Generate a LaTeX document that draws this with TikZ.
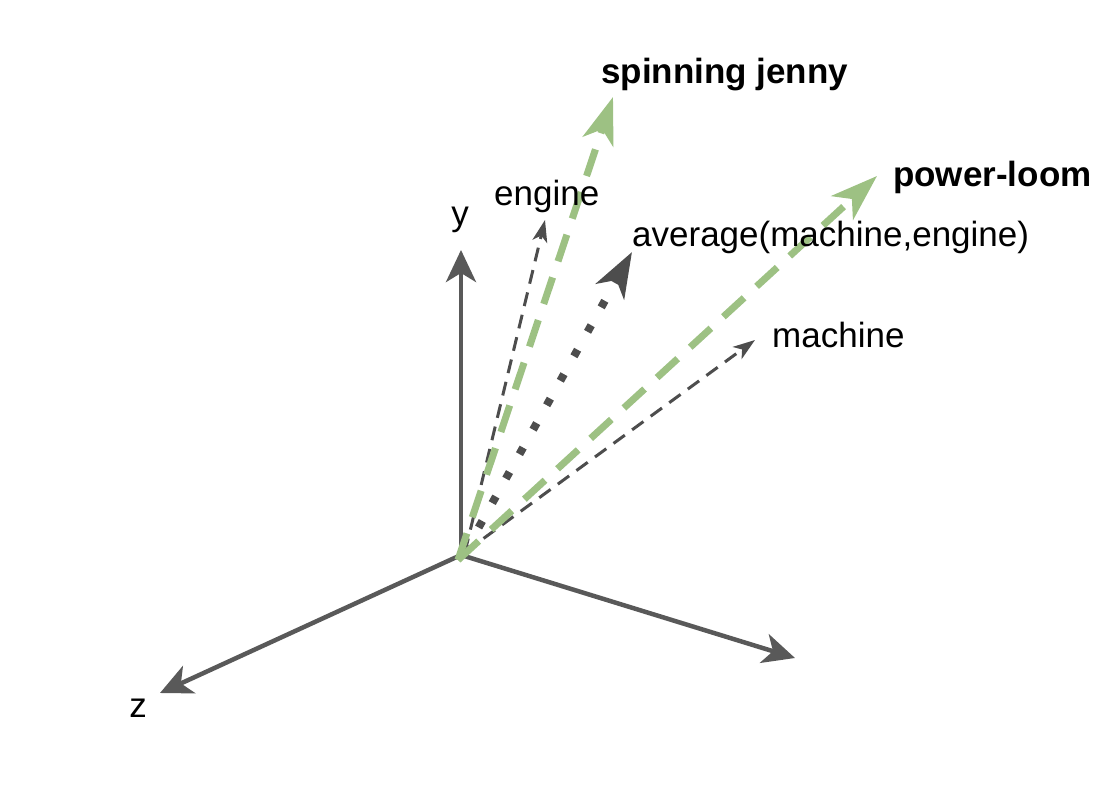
\documentclass[tikz,border=0pt]{standalone}
\usepackage{fontspec}
\setmainfont{Liberation Sans}
\usetikzlibrary{arrows.meta}
\definecolor{axisgray}{HTML}{595959}
\definecolor{darkline}{HTML}{4D4D4D}
\definecolor{leafgreen}{HTML}{9DC183}
\begin{document}
\begin{tikzpicture}[x=1pt,y=-1pt,
  axisline/.style={draw=axisgray,line width=4.5pt,-{Stealth[length=32pt,width=30pt,inset=9pt]}},
  greenvec/.style={draw=leafgreen,line width=7pt,dash pattern=on 28pt off 17pt,
    -{Stealth[length=47pt,width=32pt,inset=13pt,fill=leafgreen]}},
  thinvec/.style={draw=darkline,line width=3pt,dash pattern=on 14pt off 9pt,
    -{Stealth[length=22pt,width=15pt,inset=6pt,fill=darkline]}},
  dotvec/.style={draw=darkline,line width=8pt,dash pattern=on 7.5pt off 20.5pt,
    -{Stealth[length=45pt,width=32pt,inset=13pt,fill=darkline]}},
  lbl/.style={font=\fontsize{35}{40}\selectfont,inner sep=0pt,anchor=west,text=black},
  blbl/.style={lbl,font=\fontsize{35}{40}\selectfont\bfseries}
]
\useasboundingbox (0,0) rectangle (1120,802);
\coordinate (O) at (461,555);
\coordinate (G) at (458,560);
\coordinate (ytip) at (461,250);
\coordinate (xtip) at (795,658);
\coordinate (ztip) at (160,693);
\coordinate (etip) at (545,220);
\coordinate (atip) at (632,252);
\coordinate (mtip) at (755,340);
\coordinate (sjtip) at (613,97);
\coordinate (pltip) at (877,176);
\coordinate (O2) at (465,552);

\draw[axisline] (O) -- (ytip);
\draw[axisline] (O) -- (xtip);
\draw[axisline] (O) -- (ztip);

\draw[thinvec] (O2) -- (etip);
\draw[thinvec] (O2) -- (mtip);
\draw[dotvec] (O2) -- (atip);

\draw[greenvec] (G) -- (sjtip);
\draw[greenvec] (G) -- (pltip);

\node[blbl] (sj) at (601,75) {spinning jenny};
\node[blbl] (pl) at (893,177) {power-loom};
\node[lbl] (en) at (494,196) {engine};
\node[lbl] (av) at (632,237) {average(machine,engine)};
\node[lbl] (ma) at (772,335) {machine};
\node[lbl,anchor=center] (yl) at (460,220) {y};
\node[lbl,anchor=center] (zl) at (138,708) {z};
\end{tikzpicture}
\end{document}
